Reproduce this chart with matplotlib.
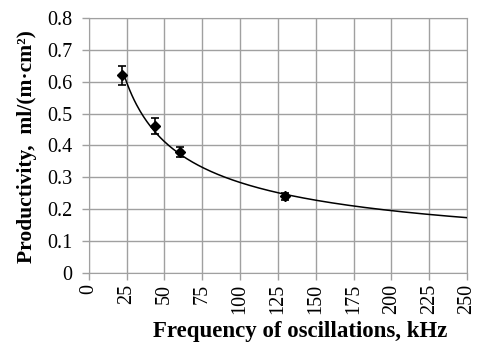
import matplotlib.pyplot as plt
import numpy as np

plt.rcParams['font.family'] = ['Liberation Serif', 'DejaVu Serif']

# Measured productivity vs oscillation frequency
freq = [22, 44, 60, 130]
productivity = [0.62, 0.46, 0.38, 0.24]
errors = [0.03, 0.025, 0.015, 0.01]

# Power-law trendline fitted to the points
b, ln_a = np.polyfit(np.log(freq), np.log(productivity), 1)
x_fit = np.linspace(24, 250, 300)
y_fit = np.exp(ln_a) * x_fit ** b

fig = plt.figure(figsize=(4.8, 3.45), dpi=100)
ax = fig.add_axes([0.185, 0.209, 0.788, 0.739])

ax.plot(x_fit, y_fit, color='black', lw=1.1, zorder=3)
ax.errorbar(freq, productivity, yerr=errors, fmt='D', color='black', ms=5.5,
            capsize=3, elinewidth=1.2, capthick=1.2, zorder=4)

ax.set_xlim(0, 250)
ax.set_ylim(0, 0.8)
ax.set_xticks(np.arange(0, 251, 25))
ax.set_yticks(np.arange(0, 0.81, 0.1))
ax.set_yticklabels(['0', '0.1', '0.2', '0.3', '0.4', '0.5', '0.6', '0.7', '0.8'])
ax.tick_params(axis='x', labelrotation=90, pad=3)
ax.tick_params(axis='y', pad=7)
ax.tick_params(labelsize=14.5, color='#a0a0a0', length=5, width=1)
ax.grid(True, color='#a0a0a0', lw=1)
ax.set_axisbelow(True)
for s in ax.spines.values():
    s.set_color('#a0a0a0')

ax.set_xlabel('Frequency of oscillations, kHz', fontsize=16.5, fontweight='bold')
ax.set_ylabel('Productivity,  ml/(m·cm²)', fontsize=15.5, fontweight='bold')
ax.xaxis.set_label_coords(0.558, -0.19)
ax.yaxis.set_label_coords(-0.138, 0.494)

fig.savefig('out.png', dpi=100)
